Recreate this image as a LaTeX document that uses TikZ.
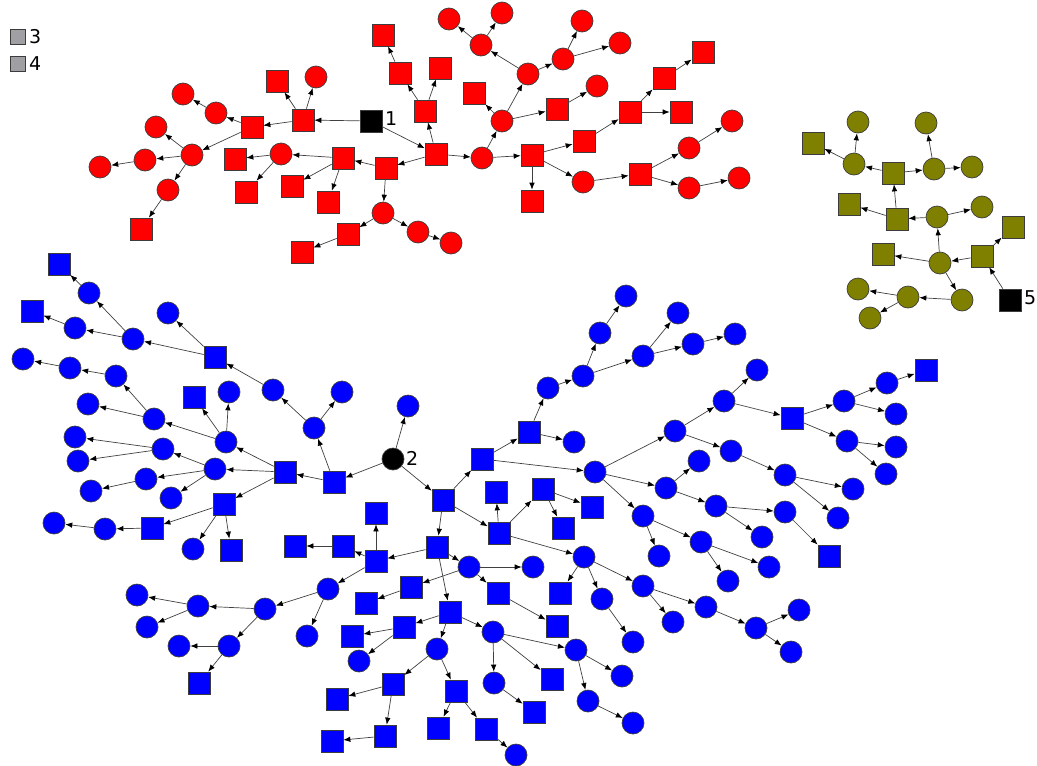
\documentclass[tikz,border=0pt]{standalone}
\usepackage{fontspec}
\setmainfont{DejaVu Sans}
\usetikzlibrary{arrows.meta}
\definecolor{olivec}{RGB}{128,128,0}
\definecolor{graysq}{RGB}{160,160,164}
\definecolor{edgec}{RGB}{64,64,64}
\definecolor{bordc}{RGB}{60,60,60}
\tikzset{
  base/.style={inner sep=0pt, draw=bordc, line width=0.7pt},
  sqn/.style={base, rectangle, minimum size=22pt},
  cin/.style={base, circle, minimum size=22pt},
  rsq/.style={sqn, fill=red}, rci/.style={cin, fill=red},
  bsq/.style={sqn, fill=blue}, bci/.style={cin, fill=blue},
  osq/.style={sqn, fill=olivec}, oci/.style={cin, fill=olivec},
  blk/.style={fill=black},
  gsq/.style={base, rectangle, minimum size=15pt, fill=graysq},
  lab/.style={anchor=west, inner sep=0pt, font=\fontsize{19}{19}\selectfont},
  arr/.style={draw=edgec, line width=0.7pt, -{Latex[length=7pt,width=5.5pt,color=black]}}
}
\begin{document}
\begin{tikzpicture}[x=1pt,y=-1pt]
\useasboundingbox (0,0) rectangle (1037,766);
% legend
\node[gsq] (g3) at (18,37) {};
\node[lab] (l3) at (29,37) {3};
\node[gsq] (g4) at (18,64) {};
\node[lab] (l4) at (29,64) {4};
% ---------- red cluster
\node[rsq,blk] (r1) at (371,121) {};
\node[lab] (l1) at (385,119) {1};
\foreach \n/\x/\y in {A/303/120,B/252/127,C/277/81,M/343/158,O/235/159,P/246/192,Q/292/186,S/328/202,T/386/168,V/348/234,W/302/252,X/383/35,Y/400/73,Z/436/154,AA/425/111,AB/440/68,AE/474/93,AM/557/109,AO/532/155,AP/532/201,AQ/584/141,AS/630/112,AT/664/78,AU/703/52,AV/681/112,AW/640/174,L/141/229}
  \node[rsq] (r\n) at (\x,\y) {};
\foreach \n/\x/\y in {D/316/77,E/216/113,F/183/94,G/192/155,H/156/127,I/145/160,J/100/167,K/168/190,N/281/154,U/383/213,BB/418/232,BC/451/243,AC/482/158,AD/502/121,AF/528/74,AG/481/45,AH/449/19,AI/502/13,AJ/563/59,AK/582/21,AL/620/43,AN/597/86,AR/583/182,AX/689/148,AY/732/121,AZ/689/188,BA/739/178}
  \node[rci] (r\n) at (\x,\y) {};
\foreach \a/\b in {1/A,1/Z,A/B,A/C,A/D,B/E,E/F,B/G,G/H,G/I,I/J,G/K,K/L,T/M,M/N,N/O,N/P,M/Q,M/S,Z/T,T/U,U/V,V/W,U/BB,BB/BC,Z/AA,AA/Y,Y/X,AA/AB,Z/AC,AC/AD,AD/AE,AD/AF,AF/AG,AG/AH,AG/AI,AF/AJ,AJ/AK,AJ/AL,AD/AM,AM/AN,AC/AO,AO/AP,AO/AQ,AQ/AS,AS/AT,AT/AU,AS/AV,AO/AR,AR/AW,AW/AX,AX/AY,AW/AZ,AZ/BA}
  \draw[arr] (r\a) -- (r\b);
% ---------- olive cluster
\node[osq,blk] (o5) at (1010,300) {};
\node[lab] (l5) at (1024,298) {5};
\foreach \n/\x/\y in {a/982/256,b/1013/227,d/883/254,k/897/219,l/849/204,m/893/173,o/813/143}
  \node[osq] (o\n) at (\x,\y) {};
\foreach \n/\x/\y in {c/940/263,e/937/217,f/962/300,g/908/297,h/858/289,i/870/318,j/982/207,n/854/164,p/858/122,q/934/169,r/926/123,s/972/167}
  \node[oci] (o\n) at (\x,\y) {};
\foreach \a/\b in {5/a,a/b,a/c,c/d,c/e,c/f,f/g,g/h,g/i,e/j,e/k,k/l,k/m,m/n,n/o,n/p,m/q,q/r,q/s}
  \draw[arr] (o\a) -- (o\b);
% ---------- blue cluster
\node[cin,blk] (b2) at (393,459) {};
\node[lab] (l2) at (406,458) {2};
\foreach \n/\x/\y in {bb/334/482,bc/443/500,bd/285/472,bh/215/357,bk/224/504,bl/194/397,bo/231/550,bs/59/264,bu/32/311,cg/152/528,cj/482/459,ck/529/432,dc/499/533,dd/496/492,de/543/489,df/592/507,dg/563/528,di/437/547,dm/792/418,dp/926/370,dy/829/556,ee/560/593,em/376/561,en/376/513,eo/343/546,ep/295/546,et/411/587,eu/366/603,ev/498/593,ew/557/626,ex/450/612,ey/404/627,ez/352/636,fc/393/684,fd/337/699,fe/385/736,ff/332/741,fg/456/691,fh/438/728,fi/486/729,fm/534/712,fn/552/679,fz/199/683}
  \node[bsq] (b\n) at (\x,\y) {};
\foreach \n/\x/\y in {ba/408/406,be/314/428,bf/273/390,bg/342/392,bi/226/442,bj/215/469,bm/229/392,bn/193/549,bp/168/313,bq/133/339,br/89/293,bt/75/328,bv/154/419,bw/88/404,bx/116/376,by/70/368,bz/23/359,ca/163/449,cb/75/437,cc/78/461,cd/146/479,ce/91/491,cf/171/498,ch/105/529,ci/54/523,cl/574/442,cm/548/388,cn/583/376,co/600/333,cp/626/296,cq/643/356,cr/678/313,cs/693/344,ct/735/334,cu/595/472,cv/675/431,cw/724/401,cx/757/370,cy/666/488,cz/699/461,da/643/516,db/659/556,dj/731/451,dk/716/506,dl/701/542,dn/844/401,do/887/383,dq/896/414,dr/847/441,ds/896/447,dt/886/474,du/785/475,dv/853/489,dw/838/518,dx/785/512,dz/762/537,ea/769/567,eb/728/581,ec/643/586,ef/602/599,eg/633/642,eh/673/622,ei/706/607,ej/756/628,ek/799/610,el/791/652,dh/584/557,eq/328/589,er/469/567,es/533/567,fa/359/661,fb/437/649,fj/516/755,fk/493/632,fl/494/683,fo/576/650,fp/622/676,fq/588/701,fr/633/723,fs/265/609,ft/307/636,fu/198/606,fv/137/595,fw/147/627,fx/229/646,fy/179/646}
  \node[bci] (b\n) at (\x,\y) {};
\foreach \a/\b in {2/ba,2/bb,2/bc,bb/bd,bb/be,be/bf,be/bg,bf/bh,bh/bp,bh/bq,bq/br,br/bs,bq/bt,bt/bu,bd/bi,bd/bj,bd/bk,bi/bl,bi/bm,bi/bv,bv/bw,bv/bx,bx/by,by/bz,bj/ca,ca/cb,ca/cc,bj/cd,cd/ce,bj/cf,bk/cg,cg/ch,ch/ci,bk/bn,bk/bo,bc/cj,cj/ck,ck/cl,ck/cm,cm/cn,cn/co,co/cp,cn/cq,cq/cr,cq/cs,cs/ct,cj/cu,cu/cv,cv/cw,cw/cx,cw/dm,dm/dn,dn/do,do/dp,dn/dq,dm/dr,dr/ds,dr/dt,cv/dj,dj/du,du/dv,du/dw,cu/cy,cy/cz,cy/dk,dk/dx,dx/dy,dk/dz,cu/da,da/db,da/dl,dl/ea,dl/eb,bc/dc,dc/dd,dc/de,de/df,de/dg,dc/dh,dh/ee,dh/ef,ef/eg,dh/ec,ec/eh,ec/ei,ei/ej,ej/ek,ej/el,bc/di,di/em,em/en,em/eo,eo/ep,em/eq,eq/fs,eq/ft,fs/fu,fu/fv,fu/fw,fs/fx,fx/fy,fx/fz,di/er,er/es,er/et,et/eu,er/ev,ev/ew,di/ex,ex/ey,ey/ez,ey/fa,ex/fb,fb/fc,fc/fd,fc/fe,fe/ff,fb/fg,fg/fh,fg/fi,fi/fj,ex/fk,fk/fl,fl/fm,fk/fn,fk/fo,fo/fp,fo/fq,fq/fr}
  \draw[arr] (b\a) -- (b\b);
\end{tikzpicture}
\end{document}
